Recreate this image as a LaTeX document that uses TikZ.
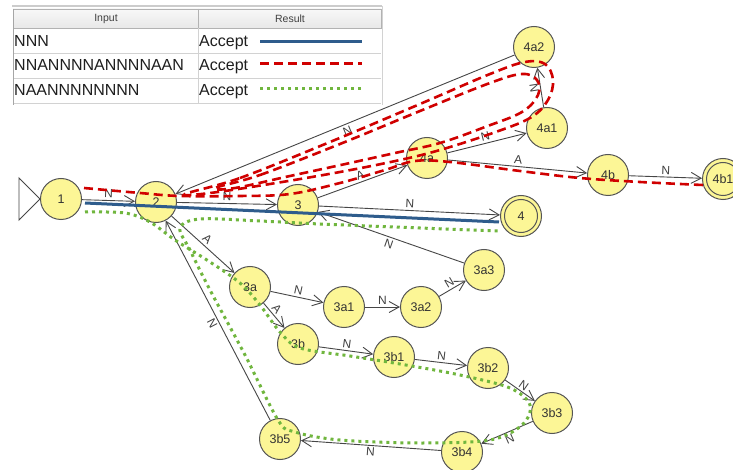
\documentclass[tikz,border=0pt]{standalone}
\usepackage{fontspec}
\setmainfont{Liberation Sans}
\usetikzlibrary{arrows.meta}
\definecolor{nodefill}{RGB}{252,246,150}
\definecolor{nodeline}{RGB}{85,85,85}
\definecolor{edgecol}{RGB}{70,70,70}
\definecolor{tblue}{RGB}{46,92,140}
\definecolor{tred}{RGB}{208,0,0}
\definecolor{tgreen}{RGB}{112,182,62}
\definecolor{gridcol}{RGB}{210,210,210}
\begin{document}
\begin{tikzpicture}[x=1pt,y=-1pt,
  state/.style={circle,draw=nodeline,fill=nodefill,line width=1pt,minimum size=41pt,inner sep=0pt,
    font=\fontsize{12.5}{12.5}\selectfont,text=black!80},
  edge/.style={draw=edgecol,line width=0.9pt,-{Straight Barb[length=10pt,width=11pt]}},
  lab/.style={font=\fontsize{12}{12}\selectfont,text=black!75,sloped,inner sep=2pt},
  bluetrace/.style={draw=tblue,line width=3pt},
  redtrace/.style={draw=tred,line width=2.6pt,dash pattern=on 9pt off 5pt},
  greentrace/.style={draw=tgreen,line width=3pt,dash pattern=on 3pt off 4pt},
  tbl/.style={font=\fontsize{16}{16}\selectfont,text=black!88,inner sep=0pt,anchor=base west},
  hdr/.style={font=\fontsize{10.5}{10.5}\selectfont,text=black!75,inner sep=0pt}
]
\clip (0,0) rectangle (733,470);
\fill[white] (0,0) rectangle (733,470);

% ---------- table ----------
\draw[line width=1.5pt,color=gray!40] (12,6) -- (382,6);
\shade[top color=gray!6,bottom color=gray!18] (13,9) rectangle (381,28);
\draw[gray!60] (13,9) rectangle (381,28);
\draw[gray!60] (198,9) -- (198,28);
\draw[gridcol] (198,28) -- (198,104);
\foreach \yy in {53,78,103} \draw[gridcol] (13,\yy) -- (381,\yy);
\draw[gray!70] (13,9) -- (13,105);
\draw[gray!35,line width=1.2pt] (382.5,6) -- (382.5,105);
\node[hdr] (hin) at (106,18.5) {Input};
\node[hdr] (hres) at (290,18.5) {Result};
\node[tbl] (in1) at (14,47) {NNN};
\node[tbl] (in2) at (14,70.5) {NNANNNNANNNNAAN};
\node[tbl] (in3) at (14,95.5) {NAANNNNNNNN};
\node[tbl] (res1) at (199,47) {Accept};
\node[tbl] (res2) at (199,70.5) {Accept};
\node[tbl] (res3) at (199,95.5) {Accept};
\draw[bluetrace] (260,41.5) -- (362,41.5);
\draw[redtrace] (260,63.5) -- (362,63.5);
\draw[greentrace] (260,88.5) -- (362,88.5);

% ---------- states ----------
\node[state] (n1) at (61,199) {1};
\node[state] (n2) at (156,202) {2};
\node[state] (n3) at (298,205) {3};
\node[state] (n4) at (521,216) {4};
\node[state] (n4a) at (427,158) {4a};
\node[state] (n4a1) at (547,128) {4a1};
\node[state] (n4a2) at (534,47) {4a2};
\node[state] (n4b) at (608,175) {4b};
\node[state] (n4b1) at (723,179) {4b1};
\node[state] (n3a) at (250,287) {3a};
\node[state] (n3a1) at (344,307) {3a1};
\node[state] (n3a2) at (421,307) {3a2};
\node[state] (n3a3) at (484,270) {3a3};
\node[state] (n3b) at (298,344) {3b};
\node[state] (n3b1) at (394,357) {3b1};
\node[state] (n3b2) at (488,368) {3b2};
\node[state] (n3b3) at (552,413) {3b3};
\node[state] (n3b4) at (462,452) {3b4};
\node[state] (n3b5) at (280,439) {3b5};
\draw[nodeline,line width=1pt] (n4.center) circle[radius=16.5pt];
\draw[nodeline,line width=1pt] (n4b1.center) circle[radius=16.5pt];
\draw[edgecol,line width=0.9pt] (n1.west) -- ++(-21,-21) -- ++(0,42) -- cycle;

% ---------- transitions ----------
\draw[edge] (n1) -- node[lab,above]{N} (n2);
\draw[edge] (n2) -- node[lab,above]{N} (n3);
\draw[edge] (n3) -- node[lab,above]{N} (n4);
\draw[edge] (n3) -- node[lab,above]{A} (n4a);
\draw[edge] (n4a) -- node[lab,above]{N} (n4a1);
\draw[edge] (n4a1) -- node[lab,below]{N} (n4a2);
\draw[edge] (n4a2) -- node[lab,below]{N} (n2);
\draw[edge] (n4a) -- node[lab,above]{A} (n4b);
\draw[edge] (n4b) -- node[lab,above]{N} (n4b1);
\draw[edge] (n2) -- node[lab,above]{A} (n3a);
\draw[edge] (n3a) -- node[lab,above]{N} (n3a1);
\draw[edge] (n3a1) -- node[lab,above]{N} (n3a2);
\draw[edge] (n3a2) -- node[lab,above]{N} (n3a3);
\draw[edge] (n3a3) -- node[lab,below]{N} (n3);
\draw[edge] (n3a) -- node[lab,above,pos=0.4]{A} (n3b);
\draw[edge] (n3b) -- node[lab,above]{N} (n3b1);
\draw[edge] (n3b1) -- node[lab,above]{N} (n3b2);
\draw[edge] (n3b2) -- node[lab,above]{N} (n3b3);
\draw[edge] (n3b3) -- node[lab,below]{N} (n3b4);
\draw[edge] (n3b4) -- node[lab,below]{N} (n3b5);
\draw[edge] (n3b5) -- node[lab,below]{N} (n2);

% ---------- traces ----------
\draw[bluetrace] (85,203) -- (499,222);

\draw[redtrace] plot[smooth,tension=0.6] coordinates {
  (84,188) (140,193) (180,196) (240,196) (290,194) (340,183) (385,170)
  (415,161) (450,162) (520,171) (580,178) (640,182) (703,185)};
\draw[redtrace] plot[smooth cycle,tension=0.6] coordinates {
  (185,194) (240,178) (330,142) (420,104) (490,74) (525,62) (545,64) (553,80)
  (548,100) (530,118) (490,134) (440,150) (400,160) (340,172) (270,184) (210,193)};
\draw[redtrace] plot[smooth cycle,tension=0.6] coordinates {
  (215,188) (260,175) (340,144) (420,111) (490,83) (522,74) (537,80) (538,95)
  (522,112) (485,127) (440,143) (395,153) (350,163) (290,176) (235,188)};

\draw[greentrace] plot[smooth,tension=0.55] coordinates {
  (85,212) (125,213) (150,222) (175,240) (210,262) (240,283) (260,305) (280,332)
  (300,348) (350,356) (400,364) (460,375) (510,388) (530,405) (522,425) (490,440)
  (420,443) (340,440) (295,432) (278,420) (245,355) (210,290) (190,250) (180,228)
  (200,219) (260,221) (320,224) (420,228) (499,231)};
\end{tikzpicture}
\end{document}
